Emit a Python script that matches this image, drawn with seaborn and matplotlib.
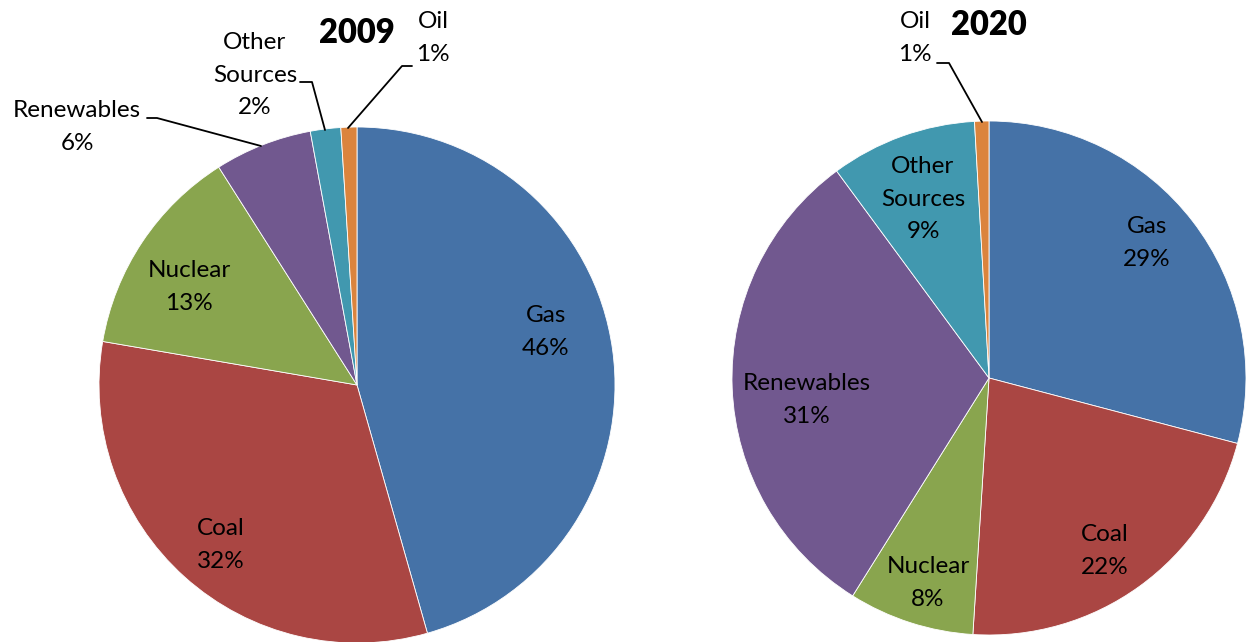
import matplotlib
matplotlib.use("Agg")
import matplotlib.pyplot as plt
import seaborn as sns

# %% data: share of electricity generation by source (%)
sources = ["Gas", "Coal", "Nuclear", "Renewables", "Other\nSources", "Oil"]
share_2009 = [45.6, 32.1, 13.3, 6.1, 1.9, 1.0]
share_2020 = [29.1, 21.9, 7.9, 31.0, 9.2, 0.9]
years = ["2009", "2020"]

colors = ["#4572A7", "#AA4643", "#89A54E", "#71588F", "#4198AF", "#DB843D"]

# %% layout in pixel units (y measured from the top)
W, H = 1246, 642
pies = [
    dict(values=share_2009, center=(357, 385), radius=258, title_xy=(357, 33),
         label_xy=[(546, 332), (221, 545), (189, 287), (77, 127), (255, 75), (433, 38)],
         leaders={3: [(147, 118), (157, 118), (261, 146)],
                  4: [(300, 82), (312, 82), (325, 130)],
                  5: [(412, 66), (402, 66), (348, 128)]}),
    dict(values=share_2020, center=(989, 378), radius=257, title_xy=(989, 25),
         label_xy=[(1147, 243), (1105, 551), (928, 583), (807, 400), (923, 199), (915, 38)],
         leaders={5: [(937, 63), (949, 63), (982, 122)]}),
]

sns.set_theme(style="white")
palette = sns.color_palette(colors)
plt.rcParams["font.family"] = ["Lato", "DejaVu Sans"]
plt.rcParams["text.color"] = "black"

fig = plt.figure(figsize=(W / 100, H / 100), dpi=100)
ax = fig.add_axes([0, 0, 1, 1])

def flip(y):
    return H - y

for year, p in zip(years, pies):
    cx, cy = p["center"]
    ax.pie(p["values"], colors=palette, startangle=90, counterclock=False,
           center=(cx, flip(cy)), radius=p["radius"],
           wedgeprops=dict(edgecolor="white", linewidth=0.6))
    for name, val, (lx, ly) in zip(sources, p["values"], p["label_xy"]):
        ax.text(lx, flip(ly), f"{name}\n{val:.0f}%", ha="center", va="center",
                multialignment="center", fontsize=17.5, linespacing=1.65, color="black")
    for pts in p["leaders"].values():
        ax.plot([x for x, _ in pts], [flip(y) for _, y in pts], color="black", lw=1.3)
    tx, ty = p["title_xy"]
    ax.text(tx, flip(ty), year, ha="center", va="center", fontsize=23.5,
            fontweight="heavy", color="black")

ax.set_xlim(0, W)
ax.set_ylim(0, H)
ax.set_aspect("equal")
ax.axis("off")

fig.savefig("out.png", dpi=100)
